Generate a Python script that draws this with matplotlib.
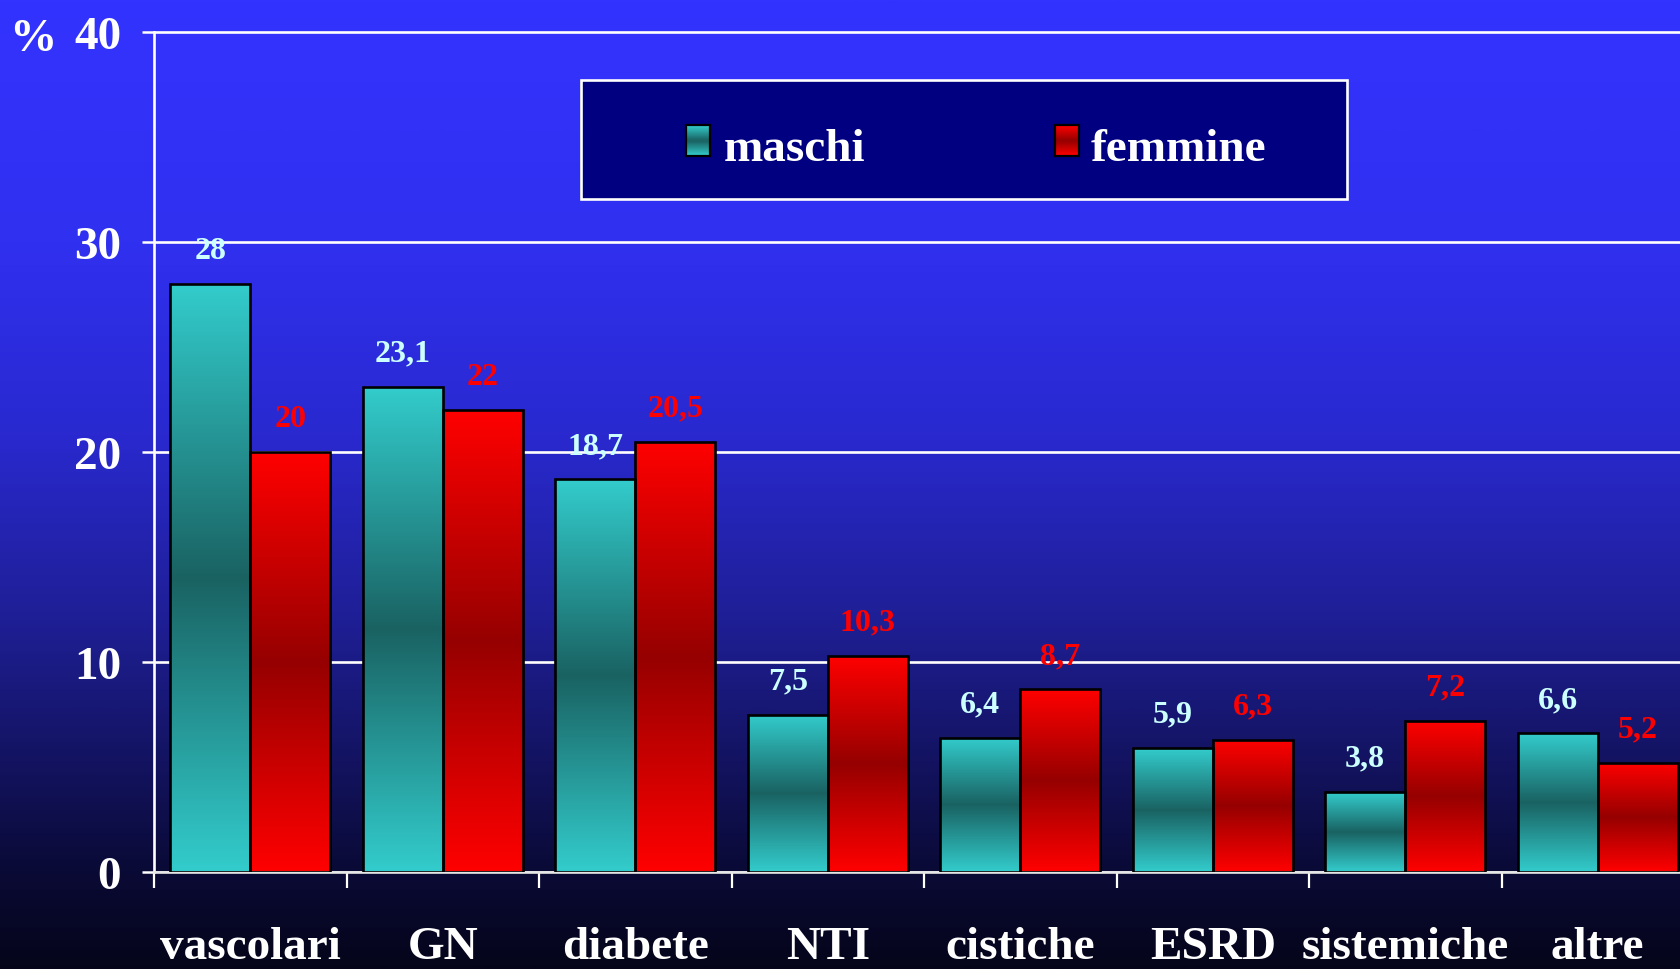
import numpy as np
import matplotlib
matplotlib.use("Agg")
import matplotlib.pyplot as plt
from matplotlib.colors import LinearSegmentedColormap
from matplotlib.patches import Rectangle
from matplotlib import transforms

# ---------------- data ----------------
categories = ["vascolari", "GN", "diabete", "NTI", "cistiche", "ESRD", "sistemiche", "altre"]
maschi = [28, 23.1, 18.7, 7.5, 6.4, 5.9, 3.8, 6.6]
femmine = [20, 22, 20.5, 10.3, 8.7, 6.3, 7.2, 5.2]
series_names = ["maschi", "femmine"]
yticks = [0, 10, 20, 30, 40]

# ---------------- style ----------------
plt.rcParams["font.family"] = ["Liberation Serif", "DejaVu Serif"]
plt.rcParams["font.weight"] = "bold"

W, H = 1681, 970
fig = plt.figure(figsize=(W / 100, H / 100), dpi=100)


def fx(px):
    return px / W


def fy(py):
    return 1 - py / H


# background gradient
bg_cmap = LinearSegmentedColormap.from_list(
    "bg",
    [(0.0, "#3333FF"), (0.25, "#3030F0"), (0.45, "#2929CF"), (0.65, "#1E1E92"),
     (0.8, "#12125C"), (0.9, "#0A0A36"), (1.0, "#05051A")],
)
bg_ax = fig.add_axes([0, 0, 1, 1], zorder=-10)
bg_ax.imshow(np.linspace(0, 1, 512).reshape(-1, 1), aspect="auto", cmap=bg_cmap,
             extent=[0, 1, 0, 1], origin="upper")
bg_ax.axis("off")

# main axes geometry (pixels)
left_px, y0_px, ppu = 154, 873, 21.0
ytop = 41
top_px = y0_px - ytop * ppu
ax = fig.add_axes([fx(left_px), fy(y0_px), (W - left_px) / W, (y0_px - top_px) / H])
ax.set_facecolor("none")

slot = 192.5
n = len(categories)
bw = 80 / slot
x = np.arange(n)

cyan_cmap = LinearSegmentedColormap.from_list("cy", ["#33CCCC", "#1A6262"])
red_cmap = LinearSegmentedColormap.from_list("rd", ["#FF0000", "#960000"])
t = np.linspace(0, 1, 256)
profile = (1 - np.abs(2 * t - 1)).reshape(-1, 1)

bars_m = ax.bar(x - bw / 2, maschi, width=bw, facecolor="none", edgecolor="black",
                linewidth=1.9, zorder=3)
bars_f = ax.bar(x + bw / 2, femmine, width=bw, facecolor="none", edgecolor="black",
                linewidth=1.9, zorder=3)

for bars, cm in ((bars_m, cyan_cmap), (bars_f, red_cmap)):
    for r in bars:
        x0, w, h = r.get_x(), r.get_width(), r.get_height()
        im = ax.imshow(profile, extent=[x0, x0 + w, 0, h], aspect="auto", cmap=cm,
                       vmin=0, vmax=1, origin="upper", zorder=2)
        im.set_clip_path(r)


def fmt(v):
    return f"{v:g}".replace(".", ",")


for xi, v in zip(x, maschi):
    ax.annotate(fmt(v), (xi - bw / 2, v), xytext=(0, 19), textcoords="offset points",
                ha="center", va="baseline", fontsize=23, color="#CCFFFF", zorder=5)
for xi, v in zip(x, femmine):
    ax.annotate(fmt(v), (xi + bw / 2, v), xytext=(0, 19), textcoords="offset points",
                ha="center", va="baseline", fontsize=23, color="#FF0000", zorder=5)

# grid / axes
ax.set_yticks(yticks)
ax.set_yticklabels([str(v) for v in yticks])
ax.yaxis.grid(True, color="white", linewidth=1.9)
ax.set_axisbelow(True)
ax.tick_params(axis="y", direction="out", length=8.6, width=1.8, color="white",
               pad=15, labelsize=34, labelcolor="white")
ax.set_xticks(np.arange(n + 1) - 0.5)
ax.set_xticklabels([])
ax.tick_params(axis="x", direction="out", length=11.5, width=1.6, color="white")

# limits set after ticks (set_xticks would otherwise widen the view)
ax.set_xlim(-0.5, -0.5 + (W - left_px) / slot)
ax.set_ylim(0, ytop)

for s in ("top", "right"):
    ax.spines[s].set_visible(False)
ax.spines["left"].set_color("white")
ax.spines["left"].set_linewidth(1.9)
ax.spines["left"].set_bounds(0, yticks[-1])
ax.spines["bottom"].set_color("#E6E6E6")
ax.spines["bottom"].set_linewidth(1.9)

lab_tr = transforms.offset_copy(ax.get_xaxis_transform(), fig=fig, x=0, y=-86, units="dots")
for xi, c in zip(x, categories):
    ax.text(xi, 0, c, transform=lab_tr, ha="center", va="baseline", fontsize=34,
            color="white", clip_on=False)

fig.text(fx(9), fy(51), "%", ha="left", va="baseline", fontsize=34, color="white")

# legend (manual)
fig.add_artist(Rectangle((fx(581), fy(200)), (1347 - 581) / W, (200 - 81) / H,
                         transform=fig.transFigure, facecolor="#000080",
                         edgecolor="white", linewidth=1.9, zorder=6))


def grad_patch(px0, py0, pw, ph, cm):
    nstrip = 30
    vals = profile[:, 0][np.linspace(0, 255, nstrip).astype(int)]
    for k in range(nstrip):
        yy = py0 + k * ph / nstrip
        fig.add_artist(Rectangle((fx(px0), fy(yy + ph / nstrip)), pw / W, ph / nstrip / H,
                                 transform=fig.transFigure, facecolor=cm(vals[k]),
                                 edgecolor="none", zorder=7))
    fig.add_artist(Rectangle((fx(px0), fy(py0 + ph)), pw / W, ph / H,
                             transform=fig.transFigure, facecolor="none",
                             edgecolor="black", linewidth=1.6, zorder=8))


grad_patch(686, 126, 24, 31, cyan_cmap)
grad_patch(1055, 126, 24, 31, red_cmap)
fig.text(fx(724), fy(161), series_names[0], ha="left", va="baseline", fontsize=34,
         color="white", zorder=9)
fig.text(fx(1091), fy(161), series_names[1], ha="left", va="baseline", fontsize=34,
         color="white", zorder=9)

fig.savefig("out.png", dpi=100)
